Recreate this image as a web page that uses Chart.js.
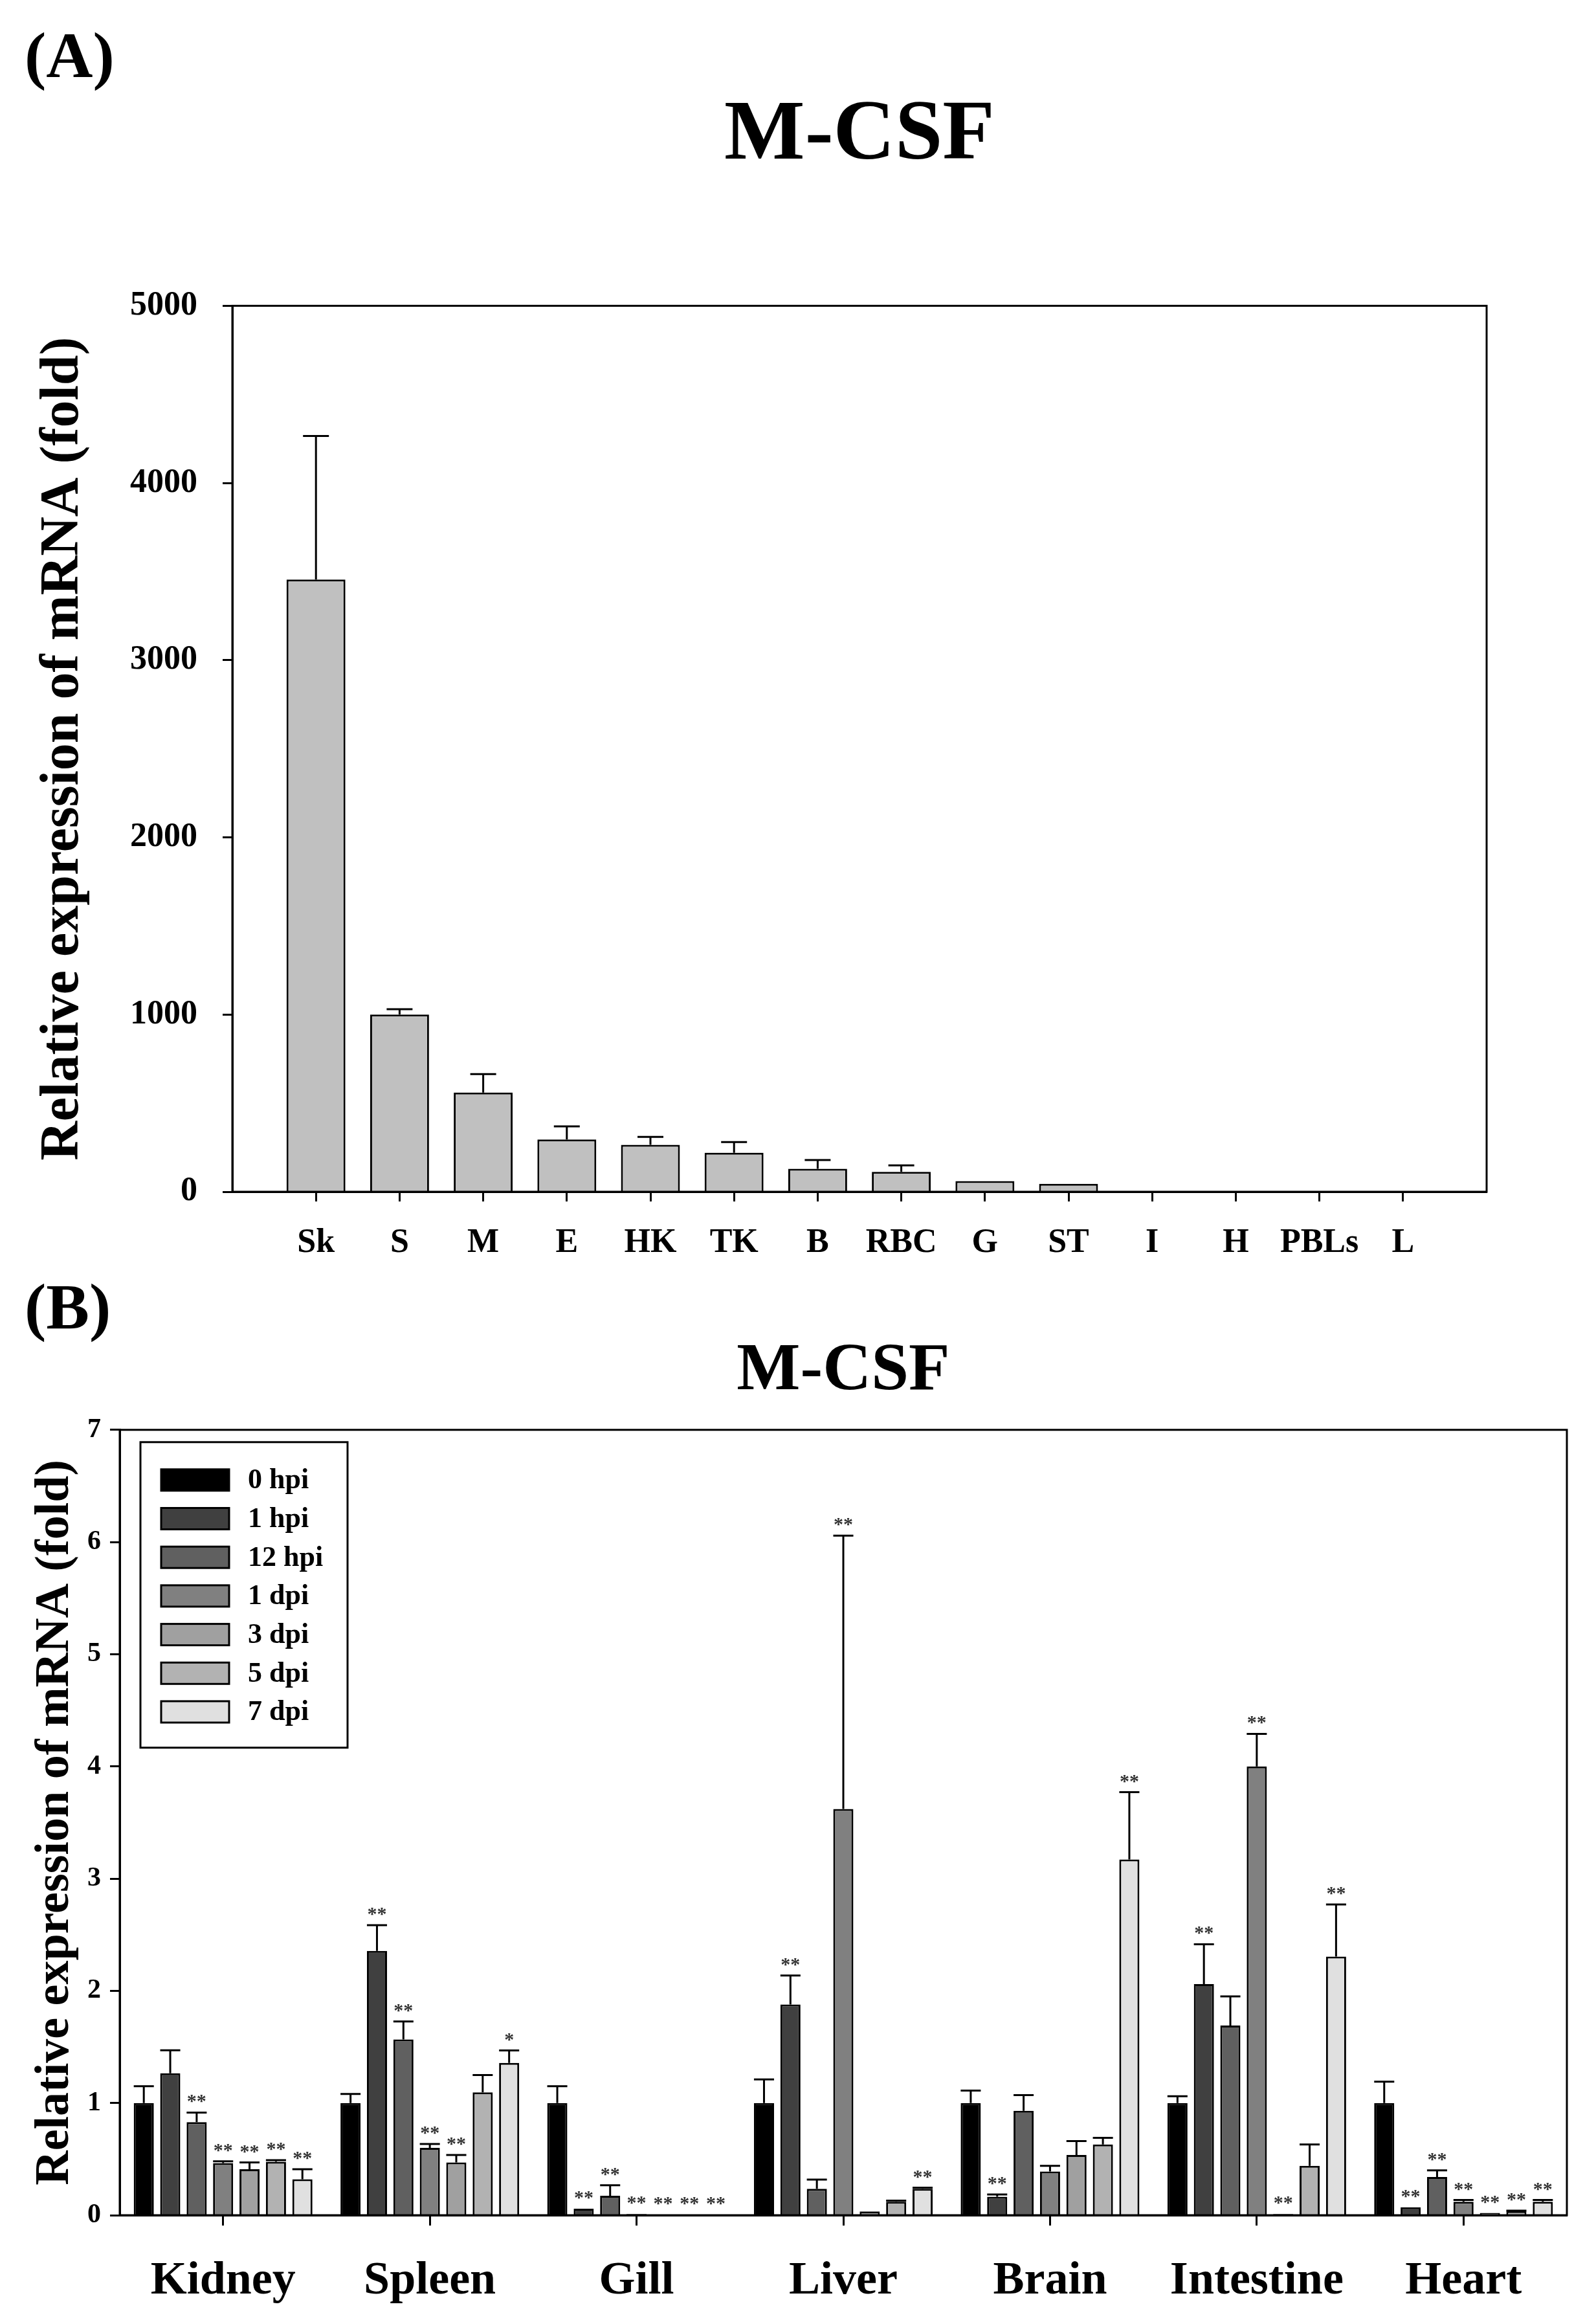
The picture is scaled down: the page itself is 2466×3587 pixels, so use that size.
<!DOCTYPE html>
<html>
<head>
<meta charset="utf-8">
<script src="https://cdn.jsdelivr.net/npm/chart.js@4.4.1/dist/chart.umd.min.js"></script>
<style>
body { margin: 0; background: #fff; width: 2466px; height: 3587px; position: relative; overflow: hidden; }
.panel { position: absolute; left: 0; }
.panel canvas { display: block; }
.tag { position: absolute; font: bold 100px 'Liberation Serif', 'Times New Roman', serif; line-height: 100px; color: #000; }
</style>
</head>
<body>
<div class="panel" style="top:0"><canvas id="chartA" width="2466" height="2000"></canvas></div>
<div class="panel" style="top:1960px"><canvas id="chartB" width="2466" height="1627"></canvas></div>
<div class="tag" style="left:38px;top:36px">(A)</div>
<div class="tag" style="left:38px;top:1969px">(B)</div>
<script>
const FONT = "'Liberation Serif', 'Times New Roman', serif";

// (A) tissue distribution
const tissues = ['Sk', 'S', 'M', 'E', 'HK', 'TK', 'B', 'RBC', 'G', 'ST', 'I', 'H', 'PBLs', 'L'];
const tissueMean = [3455, 1000, 560, 295, 265, 220, 130, 112, 60, 45, 3, 2, 1, 1];
const tissueErr = [810, 30, 104, 74, 45, 60, 49, 37, 0, 0, 0, 0, 0, 0];
const tissueTicks = [0, 1000, 2000, 3000, 4000, 5000];

// (B) time course after infection
const organs = ['Kidney', 'Spleen', 'Gill', 'Liver', 'Brain', 'Intestine', 'Heart'];
const timepoints = ['0 hpi', '1 hpi', '12 hpi', '1 dpi', '3 dpi', '5 dpi', '7 dpi'];
const shades = ['#000000', '#404040', '#606060', '#808080', '#a0a0a0', '#b2b2b2', '#e0e0e0'];
const foldTicks = [0, 1, 2, 3, 4, 5, 6, 7];

const h0 = [1.0, 1.0, 1.0, 1.0, 1.0, 1.0, 1.0];
const h1 = [1.265, 2.355, 0.058, 1.878, 0.164, 2.06, 0.071];
const h12 = [0.83, 1.566, 0.173, 0.235, 0.93, 1.69, 0.34];
const d1 = [0.465, 0.60, 0.01, 3.62, 0.39, 4.0, 0.12];
const d3 = [0.41, 0.47, 0.005, 0.033, 0.537, 0.01, 0.02];
const d5 = [0.476, 1.095, 0.005, 0.12, 0.63, 0.44, 0.035];
const d7 = [0.32, 1.358, 0.003, 0.235, 3.17, 2.305, 0.12];

const h0Err = [0.15, 0.08, 0.15, 0.21, 0.11, 0.06, 0.19];
const h1Err = [0.205, 0.23, 0, 0.258, 0.02, 0.355, 0];
const h12Err = [0.085, 0.16, 0.094, 0.083, 0.14, 0.26, 0.06];
const d1Err = [0.015, 0.035, 0, 2.437, 0.05, 0.29, 0.015];
const d3Err = [0.06, 0.067, 0, 0, 0.123, 0, 0];
const d5Err = [0.015, 0.154, 0, 0.01, 0.06, 0.19, 0.005];
const d7Err = [0.09, 0.11, 0, 0.01, 0.6, 0.465, 0.015];

const h0Sig = ['', '', '', '', '', '', ''];
const h1Sig = ['', '**', '**', '**', '**', '**', '**'];
const h12Sig = ['**', '**', '**', '', '', '', '**'];
const d1Sig = ['**', '**', '**', '**', '', '**', '**'];
const d3Sig = ['**', '**', '**', '', '', '**', '**'];
const d5Sig = ['**', '', '**', '', '', '', '**'];
const d7Sig = ['**', '*', '**', '**', '**', '**', '**'];

const frame = {
    id: 'frame',
    afterDraw(chart) {
        const { ctx, chartArea: a } = chart;
        ctx.save();
        ctx.strokeStyle = '#000';
        ctx.lineWidth = 3;
        ctx.strokeRect(a.left, a.top, a.right - a.left, a.bottom - a.top);
        ctx.restore();
    }
};

const errorBars = {
    id: 'errorBars',
    afterDatasetsDraw(chart, args, opts) {
        const { ctx } = chart;
        const y = chart.scales.y;
        ctx.save();
        ctx.strokeStyle = '#000';
        ctx.lineWidth = opts.width || 3;
        chart.data.datasets.forEach((ds, i) => {
            if (!ds.err) return;
            chart.getDatasetMeta(i).data.forEach((bar, j) => {
                const v = ds.data[j], e = ds.err[j];
                if (v == null || !e) return;
                const top = y.getPixelForValue(v + e);
                const half = (opts.cap || bar.width) / 2;
                ctx.beginPath();
                ctx.moveTo(bar.x, bar.y);
                ctx.lineTo(bar.x, top);
                ctx.moveTo(bar.x - half, top);
                ctx.lineTo(bar.x + half, top);
                ctx.stroke();
            });
        });
        ctx.restore();
    }
};

const stars = {
    id: 'stars',
    afterDatasetsDraw(chart) {
        const { ctx } = chart;
        const y = chart.scales.y;
        ctx.save();
        ctx.font = 'bold 30px ' + FONT;
        ctx.fillStyle = '#333';
        ctx.textAlign = 'center';
        ctx.textBaseline = 'alphabetic';
        chart.data.datasets.forEach((ds, i) => {
            if (!ds.sig) return;
            chart.getDatasetMeta(i).data.forEach((bar, j) => {
                if (!ds.sig[j]) return;
                const top = y.getPixelForValue(ds.data[j] + (ds.err[j] || 0));
                ctx.fillText(ds.sig[j], bar.x, top - 8);
            });
        });
        ctx.restore();
    }
};

const boxLegend = {
    id: 'boxLegend',
    afterDraw(chart) {
        const { ctx, chartArea: a } = chart;
        const x0 = a.left + 32, y0 = a.top + 19;
        ctx.save();
        ctx.fillStyle = '#fff';
        ctx.fillRect(x0, y0, 320, 472);
        ctx.strokeStyle = '#000';
        ctx.lineWidth = 3;
        ctx.strokeRect(x0, y0, 320, 472);
        ctx.font = 'bold 44px ' + FONT;
        ctx.textBaseline = 'middle';
        ctx.textAlign = 'left';
        chart.data.datasets.forEach((ds, i) => {
            const cy = y0 + 58 + i * 59.7;
            ctx.fillStyle = ds.backgroundColor;
            ctx.fillRect(x0 + 32, cy - 16, 105, 33);
            ctx.strokeRect(x0 + 32, cy - 16, 105, 33);
            ctx.fillStyle = '#000';
            ctx.fillText(ds.label, x0 + 166, cy + 2);
        });
        ctx.restore();
    }
};

const axisGrid = len => ({
    drawOnChartArea: false,
    offset: false,
    tickLength: len,
    tickWidth: 3,
    tickColor: '#000'
});
const axisBorder = { display: true, color: '#000', width: 3 };

new Chart(document.getElementById('chartA'), {
    type: 'bar',
    data: {
        labels: ['', ...tissues, ''],
        datasets: [{
            label: 'M-CSF',
            data: [null, ...tissueMean, null],
            err: [null, ...tissueErr, null],
            backgroundColor: '#c0c0c0',
            borderColor: '#000',
            borderWidth: 3,
            categoryPercentage: 0.8,
            barPercentage: 0.88
        }]
    },
    options: {
        responsive: false,
        animation: false,
        devicePixelRatio: 1,
        layout: { padding: { left: 0, right: 169, top: 0, bottom: 0 } },
        plugins: {
            legend: { display: false },
            tooltip: { enabled: false },
            title: {
                display: true, text: 'M-CSF', fullSize: false, color: '#000',
                font: { family: FONT, size: 132, weight: 'bold' },
                padding: { top: 132, bottom: 182 }
            },
            errorBars: { cap: 40, width: 3 }
        },
        scales: {
            x: {
                offset: false,
                afterFit: s => { s.height = 159; },
                border: axisBorder,
                grid: Object.assign(axisGrid(15), {
                    tickColor: c => (c.tick && c.tick.label) ? '#000' : 'rgba(0,0,0,0)'
                }),
                ticks: { autoSkip: false, maxRotation: 0, color: '#000', padding: 33, font: { family: FONT, size: 52, weight: 'bold' } }
            },
            y: {
                min: 0, max: 5000,
                afterFit: s => { s.width = 359; },
                afterBuildTicks: s => { s.ticks = tissueTicks.map(v => ({ value: v })); },
                border: axisBorder,
                grid: axisGrid(15),
                ticks: { color: '#000', padding: 39, callback: v => String(v), font: { family: FONT, size: 52, weight: 'bold' } },
                title: {
                    display: true, text: 'Relative expression of mRNA (fold)', color: '#000',
                    font: { family: FONT, size: 84, weight: 'bold' },
                    padding: { top: 48, bottom: 0 }
                }
            }
        }
    },
    plugins: [frame, errorBars]
});

const seriesB = [h0, h1, h12, d1, d3, d5, d7];
const errB = [h0Err, h1Err, h12Err, d1Err, d3Err, d5Err, d7Err];
const sigB = [h0Sig, h1Sig, h12Sig, d1Sig, d3Sig, d5Sig, d7Sig];

new Chart(document.getElementById('chartB'), {
    type: 'bar',
    data: {
        labels: organs,
        datasets: timepoints.map((t, i) => ({
            label: t,
            data: seriesB[i],
            err: errB[i],
            sig: sigB[i],
            backgroundColor: shades[i],
            borderColor: '#000',
            borderWidth: 3,
            categoryPercentage: 0.895,
            barPercentage: 0.76
        }))
    },
    options: {
        responsive: false,
        animation: false,
        devicePixelRatio: 1,
        layout: { padding: { left: 0, right: 45, top: 0, bottom: 0 } },
        plugins: {
            legend: { display: false },
            tooltip: { enabled: false },
            title: {
                display: true, text: 'M-CSF', fullSize: false, color: '#000',
                font: { family: FONT, size: 104, weight: 'bold' },
                padding: { top: 97, bottom: 27 }
            },
            errorBars: { width: 3 }
        },
        scales: {
            x: {
                afterFit: s => { s.height = 165; },
                border: axisBorder,
                grid: axisGrid(16),
                ticks: { color: '#000', padding: 43, font: { family: FONT, size: 72, weight: 'bold' } }
            },
            y: {
                min: 0, max: 7,
                afterFit: s => { s.width = 185; },
                afterBuildTicks: s => { s.ticks = foldTicks.map(v => ({ value: v })); },
                border: axisBorder,
                grid: axisGrid(15),
                ticks: { color: '#000', padding: 14, font: { family: FONT, size: 42, weight: 'bold' } },
                title: {
                    display: true, text: 'Relative expression of mRNA (fold)', color: '#000',
                    font: { family: FONT, size: 74, weight: 'bold' },
                    padding: { top: 41, bottom: 0 }
                }
            }
        }
    },
    plugins: [frame, errorBars, stars, boxLegend]
});
</script>
</body>
</html>
